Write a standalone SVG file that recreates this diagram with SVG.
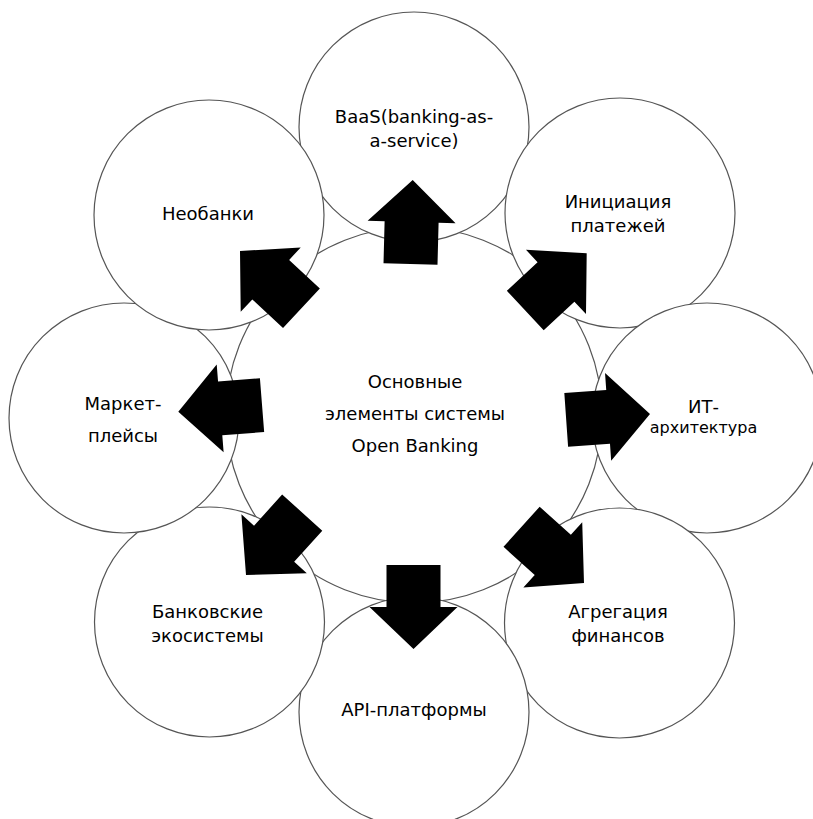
<svg xmlns="http://www.w3.org/2000/svg" xmlns:xlink="http://www.w3.org/1999/xlink" width="813" height="819" viewBox="0 0 813 819">
<style>
.c{fill:#fff;stroke:#555;stroke-width:1.2}
.t{font-family:"DejaVu Sans","Liberation Sans",sans-serif;font-size:18px;fill:#000;text-anchor:middle}
.s{font-size:16px}
.a{fill:#000}
</style>
<defs>
<polygon id="arr" points="0,0 -42,-44 -42,-27 -84,-27 -84,27 -42,27 -42,44"/>
</defs>
<rect width="813" height="819" fill="#fff"/>
<g id="center">
<circle class="c" cx="414" cy="415" r="188"/>
</g>
<g id="baas">
<circle class="c" cx="414" cy="127" r="115"/>
<text class="t" x="414" y="123">BaaS(banking-as-</text>
<text class="t" x="414" y="147">a-service)</text>
</g>
<g id="initiation">
<circle class="c" cx="620" cy="213" r="115"/>
<text class="t" x="618" y="208">Инициация</text>
<text class="t" x="618" y="232">платежей</text>
</g>
<g id="it">
<circle class="c" cx="707" cy="418" r="115"/>
<text class="t" x="703.5" y="413">ИТ-</text>
<text class="t s" x="703.5" y="433">архитектура</text>
</g>
<g id="aggregation">
<circle class="c" cx="619.5" cy="623" r="115"/>
<text class="t" x="618" y="618">Агрегация</text>
<text class="t" x="618" y="642">финансов</text>
</g>
<g id="api">
<circle class="c" cx="414" cy="712" r="115"/>
<text class="t" x="414" y="716">API-платформы</text>
</g>
<g id="ecosystems">
<circle class="c" cx="209.5" cy="622" r="115"/>
<text class="t" x="207.5" y="618">Банковские</text>
<text class="t" x="207.5" y="642">экосистемы</text>
</g>
<g id="marketplaces">
<circle class="c" cx="124" cy="418" r="115"/>
<text class="t" x="123" y="410">Маркет-</text>
<text class="t" x="123" y="442">плейсы</text>
</g>
<g id="neobanks">
<circle class="c" cx="209" cy="215" r="115"/>
<text class="t" x="208" y="220">Необанки</text>
</g>
<g id="connectors">
<use class="a" xlink:href="#arr" transform="translate(412.7,180) rotate(-88.5)"/>
<use class="a" xlink:href="#arr" transform="translate(586.7,253.3) rotate(-43)"/>
<use class="a" xlink:href="#arr" transform="translate(650,414) rotate(-4)"/>
<use class="a" xlink:href="#arr" transform="translate(584,583) rotate(42)"/>
<use class="a" xlink:href="#arr" transform="translate(413.5,649) rotate(90)"/>
<use class="a" xlink:href="#arr" transform="translate(246,575) rotate(132)"/>
<use class="a" xlink:href="#arr" transform="translate(178.3,411.7) rotate(175.5)"/>
<use class="a" xlink:href="#arr" transform="translate(240,251) rotate(223)"/>
</g>
<g id="center-label">
<text class="t" x="415" y="388">Основные</text>
<text class="t" x="415" y="420">элементы системы</text>
<text class="t" x="415" y="452">Open Banking</text>
</g>
</svg>
